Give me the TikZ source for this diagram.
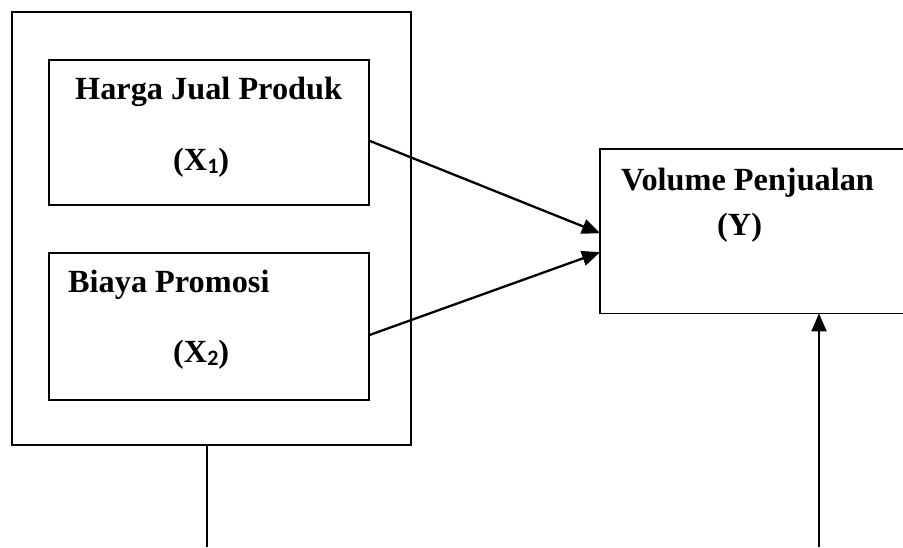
\documentclass[tikz,border=0pt]{standalone}
\usepackage{fontspec}
\setmainfont{Liberation Serif}
\newfontfamily\subfont{Carlito}
\usetikzlibrary{arrows.meta,calc}
\newcommand{\sbx}[1]{\raisebox{-0.12em}{\subfont\bfseries\fontsize{22}{22}\selectfont #1}}
\begin{document}
\begin{tikzpicture}[x=1pt,y=-1pt,
  box/.style={draw,line width=1.8pt,rectangle,inner sep=0pt,anchor=north west},
  boxline/.style={line width=1.8pt},
  lbl/.style={anchor=base west,inner sep=0pt,font=\fontsize{32.3}{36}\selectfont\bfseries},
  conn/.style={line width=2.3pt,-{Triangle[length=18pt,width=15pt]}},
  plain/.style={line width=2pt}]
\useasboundingbox (0,0) rectangle (903,547);
\node[box,minimum width=399pt,minimum height=433pt] (outer) at (11,11) {};
\node[box,minimum width=320pt,minimum height=145pt] (x1) at (48,59) {};
\node[box,minimum width=320pt,minimum height=147pt] (x2) at (48,252) {};
\node[rectangle,inner sep=0pt,anchor=north west,minimum width=320pt,minimum height=164pt] (yb) at (600,149) {};
\coordinate (rb) at (903,0);
\draw[boxline] (yb.north -| rb) -- (yb.north west) -- (yb.south west) -- (yb.south -| rb);
\node[lbl] (t1) at (75,99) {Harga Jual Produk};
\node[lbl] (t1s) at (173,170) {(X\sbx{1})};
\node[lbl] (t2) at (68,292) {Biaya Promosi};
\node[lbl] (t2s) at (173,362) {(X\sbx{2})};
\node[lbl] (t3) at (621,190) {Volume Penjualan};
\node[lbl] (t3s) at (717,235) {(Y)};
\draw[conn] ([yshift=-8.5pt]x1.east) -- ([yshift=-2pt]yb.west);
\draw[conn] ([yshift=-8.5pt]x2.east) -- ([yshift=-21pt]yb.west);
\coordinate (b1) at (207,547);
\coordinate (b2) at (819,547);
\draw[plain] (outer.south -| b1) -- (b1);
\draw[conn] (b2) -- (yb.south -| b2);
\end{tikzpicture}
\end{document}
